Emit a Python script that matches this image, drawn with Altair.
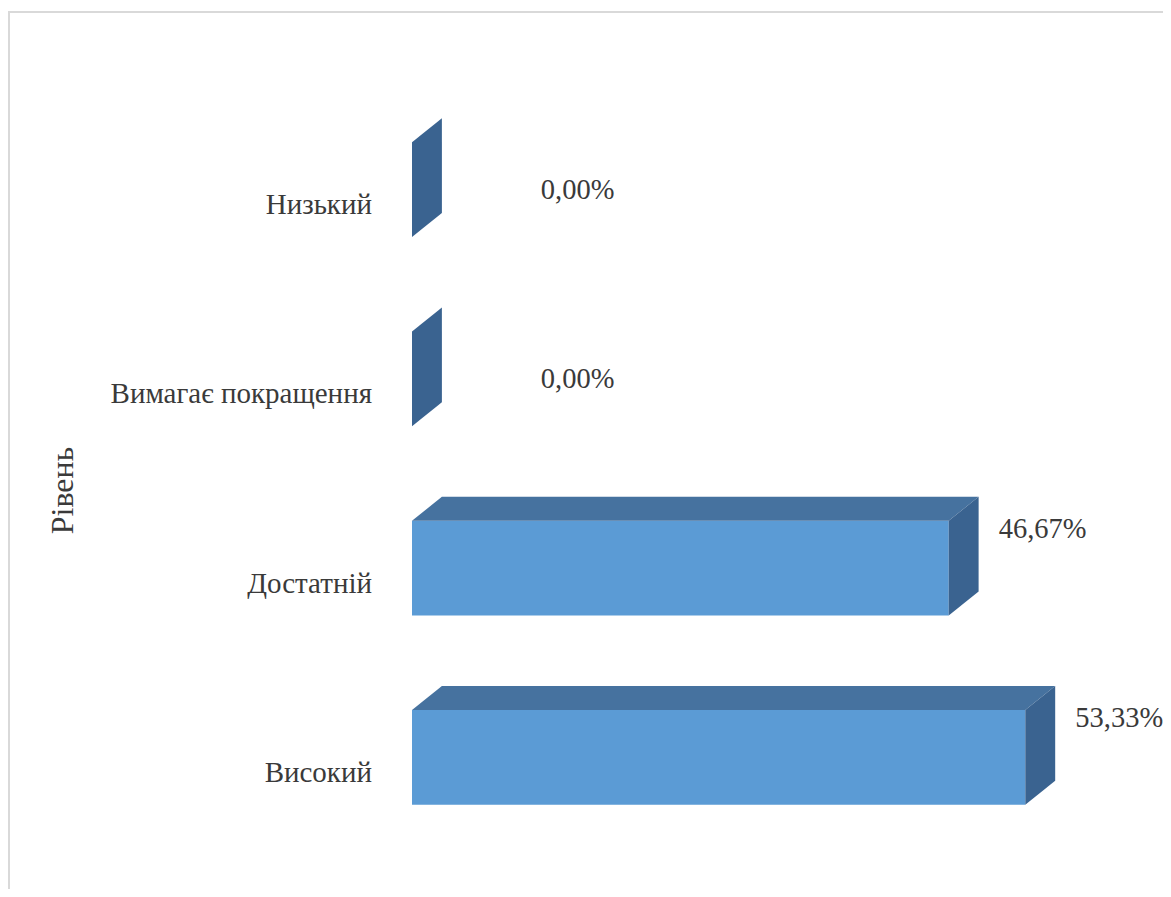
import altair as alt
import pandas as pd

# ---- data (top to bottom as in the picture) ----
categories = ["Низький", "Вимагає покращення", "Достатній", "Високий"]
values = [0.0, 0.0, 46.67, 53.33]
axis_title = "Рівень"

# 3D depth (style constants, in data units of the scales)
DX = 2.6     # horizontal depth
DY = 0.127   # vertical depth
n = len(categories)

rows, top_rows, side_rows = [], [], []
for k, (c, v) in enumerate(zip(categories, values)):
    idx = n - 1 - k          # 0 = bottom row
    lab = f"{v:.2f}".replace(".", ",") + "%"
    rows.append({
        "cat": c, "v": v, "idx": idx, "lab": lab, "zero": 0.0,
        "y0": idx + 0.25, "y1": idx + 0.75,
        "cy": idx + 0.5 - 0.13,
        "lx": (v + DX + 1.75) if v > 0 else 11.2,
        "ly": (idx + 0.75 - 0.09) if v > 0 else (idx + 0.5 - 0.05),
    })
    top_rows += [
        {"cat": c, "y": idx + 0.75, "xa": 0.0, "xb": v},
        {"cat": c, "y": idx + 0.75 + DY, "xa": DX, "xb": v + DX},
    ]
    side_rows += [
        {"cat": c, "x": v, "ya": idx + 0.25, "yb": idx + 0.75},
        {"cat": c, "x": v + DX, "ya": idx + 0.25 + DY, "yb": idx + 0.75 + DY},
    ]

df = pd.DataFrame(rows)
df_top = pd.DataFrame(top_rows)
df_side = pd.DataFrame(side_rows)

xs = alt.Scale(domain=[0, 60], nice=False, zero=False)
ys = alt.Scale(domain=[0, 4], nice=False, zero=False)
FONT = "Liberation Serif, Times New Roman, DejaVu Serif, serif"
TXT = "#3a3a3a"

yaxis = alt.Axis(labels=False, ticks=False, domain=False, grid=False,
                 title=axis_title, titleX=-350, titleY=395, titleAngle=270,
                 titleAlign="center", titleBaseline="middle",
                 titleFont=FONT, titleFontSize=32, titleFontWeight="normal",
                 titleColor=TXT)

border = alt.Chart(pd.DataFrame({"a": [0]})).mark_rect(
    fill=None, stroke="#d9d9d9", strokeWidth=2
).encode(x=alt.value(-403), x2=alt.value(900), y=alt.value(-83), y2=alt.value(1000))

front = alt.Chart(df).mark_rect(color="#5B9BD5").encode(
    x=alt.X("zero:Q", scale=xs, axis=None), x2="v:Q",
    y=alt.Y("y0:Q", scale=ys, axis=yaxis), y2="y1:Q",
)

top = alt.Chart(df_top).mark_area(orient="horizontal", color="#46729F").encode(
    y=alt.Y("y:Q", scale=ys, axis=yaxis),
    x=alt.X("xa:Q", scale=xs, axis=None), x2="xb:Q",
    detail="cat:N",
)

side = alt.Chart(df_side).mark_area(orient="vertical", color="#3A6390").encode(
    x=alt.X("x:Q", scale=xs, axis=None),
    y=alt.Y("ya:Q", scale=ys, axis=yaxis), y2="yb:Q",
    detail="cat:N",
)

cat_labels = alt.Chart(df).mark_text(
    align="right", baseline="alphabetic", dx=-40, font=FONT, fontSize=29, color=TXT
).encode(
    x=alt.X("zero:Q", scale=xs, axis=None),
    y=alt.Y("cy:Q", scale=ys, axis=yaxis),
    text="cat:N",
)

val_labels = alt.Chart(df).mark_text(
    align="left", baseline="alphabetic", font=FONT, fontSize=28.5, color=TXT
).encode(
    x=alt.X("lx:Q", scale=xs, axis=None),
    y=alt.Y("ly:Q", scale=ys, axis=yaxis),
    text="lab:N",
)

chart = alt.layer(border, front, top, side, cat_labels, val_labels).properties(
    width=690, height=757,
    autosize=alt.AutoSizeParams(type="none"),
    padding={"left": 404, "top": 87, "right": 61, "bottom": 37},
    background="white",
).configure_view(stroke=None)

chart.save("out.html", embed_options={"renderer": "svg", "actions": False})
